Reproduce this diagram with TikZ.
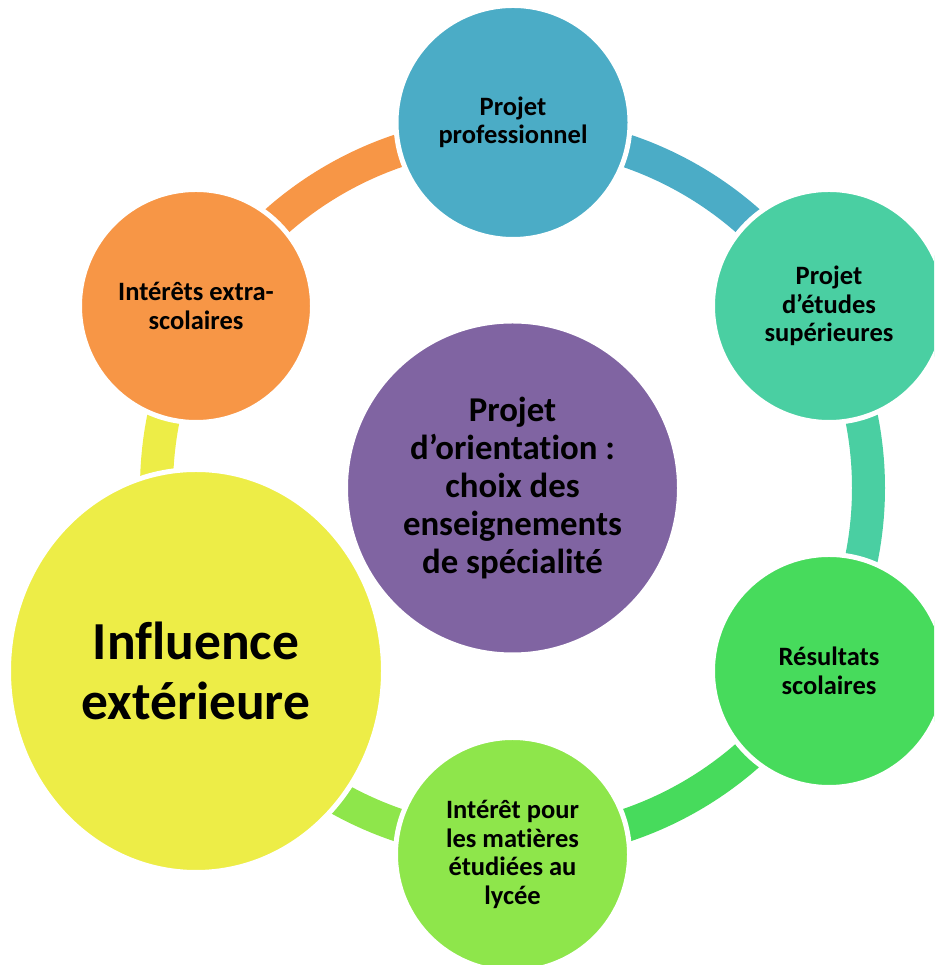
\documentclass[tikz,border=0pt]{standalone}
\usepackage{fontspec}
\setmainfont{Carlito}[Ligatures=NoCommon]
\usetikzlibrary{shapes.geometric}
\definecolor{cBlue}{HTML}{4BACC6}
\definecolor{cTeal}{HTML}{4ACFA2}
\definecolor{cGreen}{HTML}{47DB5C}
\definecolor{cLight}{HTML}{8EE64B}
\definecolor{cYellow}{HTML}{EDED47}
\definecolor{cOrange}{HTML}{F79646}
\definecolor{cPurple}{HTML}{8064A2}
\begin{document}
\begin{tikzpicture}[x=1pt,y=1pt,
  bubble/.style={circle, draw=white, line width=5pt, inner sep=0pt, align=center,
    font=\bfseries\fontsize{26.5}{28.5}\selectfont, text=black},
  ringseg/.style={line width=33pt, line cap=butt}]
\useasboundingbox (0,0) rectangle (934,965);
\clip (0,0) rectangle (934,965);
\coordinate (c) at (512.5,477);
% ring segments
\draw[ringseg, cOrange] ([shift={(90:356)}]c) arc[start angle=90, end angle=150, radius=356];
\draw[ringseg, cBlue] ([shift={(30:356)}]c) arc[start angle=30, end angle=90, radius=356];
\draw[ringseg, cTeal] ([shift={(-30:356)}]c) arc[start angle=-30, end angle=30, radius=356];
\draw[ringseg, cGreen] ([shift={(-90:356)}]c) arc[start angle=-90, end angle=-30, radius=356];
\draw[ringseg, cLight] ([shift={(210:356)}]c) arc[start angle=210, end angle=270, radius=356];
\draw[ringseg, cYellow] ([shift={(150:356)}]c) arc[start angle=150, end angle=210, radius=356];
% nodes
\node[bubble, fill=cPurple, minimum size=334pt, font=\bfseries\fontsize{34.8}{38}\selectfont] (center) at (c)
  {Projet\\d’orientation :\\choix des\\enseignements\\de spécialité};
\node[bubble, fill=cBlue, minimum size=234pt] (pro) at (513,842.5) {Projet\\professionnel};
\node[bubble, fill=cTeal, minimum size=233pt] (etu) at (829,659) {Projet\\d’études\\supérieures};
\node[bubble, fill=cGreen, minimum size=233pt] (res) at (829,294) {Résultats\\scolaires};
\node[bubble, fill=cLight, minimum size=234pt] (mat) at (512.5,110.5) {Intérêt pour\\les matières\\étudiées au\\lycée};
\node[bubble, ellipse, fill=cYellow, minimum width=375pt, minimum height=403pt,
  font=\bfseries\fontsize{53.5}{60}\selectfont] (inf) at (196,294) {Influence\\extérieure};
\node[bubble, fill=cOrange, minimum size=233pt] (ext) at (196,659) {Intérêts extra-\\scolaires};
\end{tikzpicture}
\end{document}
